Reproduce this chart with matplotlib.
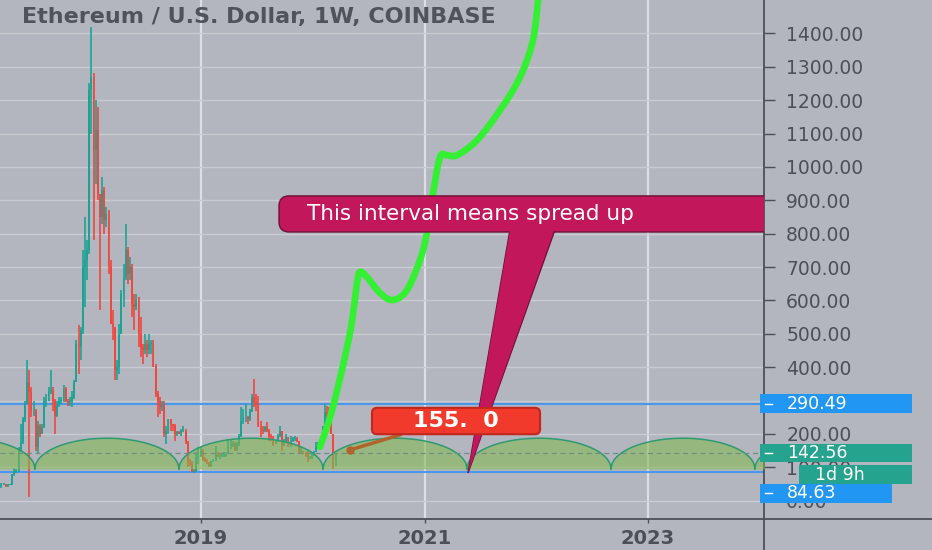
import numpy as np
import matplotlib.pyplot as plt
from matplotlib.patches import FancyBboxPatch, Polygon, Rectangle
from matplotlib.lines import Line2D
from matplotlib import transforms


# weekly ETH/USD candles (Coinbase), first week starts 2017-03-13
first_open = 40
closes = [43, 50, 50, 43, 48, 48, 80, 90, 90, 156,
          175, 245, 290, 355, 325, 270, 270, 160, 225, 200,
          220, 300, 300, 330, 330, 300, 255, 290, 300, 300,
          335, 300, 295, 300, 310, 355, 470, 460, 510, 700,
          720, 750, 1230, 1270, 1050, 1110, 920, 850, 930, 840,
          860, 700, 530, 520, 390, 400, 500, 620, 670, 750,
          680, 700, 590, 580, 600, 500, 460, 450, 470, 450,
          470, 470, 400, 320, 300, 280, 290, 200, 210, 245,
          230, 225, 200, 205, 200, 210, 210, 175, 115, 110,
          85, 85, 130, 135, 150, 125, 120, 115, 105, 120,
          120, 140, 135, 135, 135, 135, 140, 165, 165, 170,
          155, 170, 195, 240, 250, 250, 245, 270, 310, 295,
          290, 225, 215, 210, 220, 210, 195, 190, 170, 180,
          195, 210, 165, 175, 190, 165, 180, 185, 185, 180,
          150, 150, 145, 135, 130, 130, 145, 145, 165, 170,
          190, 225, 265, 250, 230, 200, 125, 135]
highs = [48, 53, 54, 51, 50, 50, 80, 97, 95, 160,
         230, 250, 300, 420, 390, 340, 300, 275, 240, 230,
         230, 310, 320, 340, 390, 340, 305, 300, 310, 310,
         345, 340, 305, 310, 330, 360, 480, 525, 520, 750,
         850, 780, 1250, 1420, 1280, 1200, 1180, 920, 970, 940,
         880, 870, 720, 570, 520, 420, 530, 630, 710, 830,
         760, 730, 710, 620, 620, 610, 550, 470, 500, 480,
         500, 480, 480, 410, 330, 310, 300, 300, 225, 245,
         245, 230, 230, 210, 210, 215, 225, 215, 180, 125,
         120, 95, 145, 160, 160, 155, 130, 125, 117, 120,
         125, 165, 145, 140, 140, 145, 145, 185, 185, 180,
         175, 175, 200, 280, 275, 290, 255, 275, 320, 365,
         320, 315, 240, 225, 225, 235, 215, 200, 195, 180,
         200, 225, 210, 185, 200, 190, 195, 190, 195, 190,
         180, 160, 150, 145, 150, 135, 145, 150, 175, 175,
         185, 225, 290, 285, 280, 255, 200, 140]
lows = [38, 38, 47, 42, 41, 46, 48, 74, 82, 85,
        145, 170, 235, 290, 10, 250, 255, 150, 140, 190,
        200, 218, 280, 300, 320, 270, 200, 250, 280, 290,
        295, 295, 285, 285, 280, 305, 355, 380, 420, 500,
        580, 660, 740, 1100, 780, 950, 900, 570, 830, 800,
        820, 680, 530, 480, 360, 360, 380, 500, 580, 660,
        650, 660, 550, 510, 570, 460, 430, 410, 440, 430,
        440, 440, 400, 310, 250, 260, 270, 190, 170, 200,
        210, 210, 180, 195, 200, 195, 205, 170, 100, 105,
        85, 82, 85, 110, 130, 120, 115, 110, 100, 100,
        115, 120, 130, 125, 130, 130, 130, 140, 155, 160,
        150, 150, 165, 190, 230, 235, 230, 240, 265, 280,
        270, 220, 190, 200, 205, 205, 180, 180, 165, 170,
        175, 190, 150, 165, 175, 160, 160, 175, 180, 175,
        140, 140, 140, 130, 115, 125, 125, 135, 145, 155,
        165, 185, 220, 240, 215, 220, 95, 105]

# hand drawn projection (decimal year, price)
proj_t = [2020.065, 2020.181, 2020.333, 2020.396, 2020.423, 2020.485, 2020.602,
          2020.718, 2020.843, 2020.960, 2021.022, 2021.076, 2021.139, 2021.201,
          2021.291, 2021.470, 2021.676, 2021.855, 2021.971, 2022.016]
proj_v = [161, 281, 502, 652, 685, 670, 622, 601, 631, 721, 802, 921, 1029,
          1035, 1035, 1080, 1170, 1269, 1380, 1500]

# cycle arcs: cusp dates, arc base and top
cusps = [2016.225, 2017.514, 2018.803, 2020.092, 2021.380, 2022.669, 2023.957, 2025.246]
arc_base = 95
arc_top = 187

level_hi = 290.49
level_lo = 84.63
level_last = 142.56

# annotations
note_line_t = [2020.333, 2020.781]
note_line_v = [152, 197]
price_note = "155.  0"
callout = "This interval means spread up"

BG = '#b3b6be'
DARK = '#4c4f57'
UP = '#1fa293'
DOWN = '#f0473f'
BLUE = '#4a98ee'
MAGENTA = '#c2185b'


def smooth(xs, ys, n=12):
    # catmull-rom through the drawn points, just for a hand drawn look
    p = np.column_stack([xs, ys]).astype(float)
    p = np.vstack([p[0], p, p[-1]])
    out = []
    for i in range(1, len(p) - 2):
        p0, p1, p2, p3 = p[i - 1], p[i], p[i + 1], p[i + 2]
        s = np.linspace(0, 1, n, endpoint=False)[:, None]
        out.append(0.5 * (2 * p1 + (-p0 + p2) * s + (2 * p0 - 5 * p1 + 4 * p2 - p3) * s ** 2
                          + (-p0 + 3 * p1 - 3 * p2 + p3) * s ** 3))
    out.append(p[-2][None, :])
    out = np.vstack(out)
    return out[:, 0], out[:, 1]


fig = plt.figure(figsize=(9.32, 5.5), dpi=100, facecolor=BG)
ax = fig.add_axes([0, 31 / 550, 764 / 932, 519 / 550])
ax.set_facecolor(BG)
ax.set_xlim(2017.2013, 2024.038)
ax.set_ylim(-55, 1500)

# grid; the 300 label sits fully under the 290.49 price tag
yt = np.arange(0, 1500, 100)
ax.set_yticks(yt)
ax.set_yticklabels(["" if v == 300 else f"{v:.2f}" for v in yt])
ax.set_xticks([2019, 2021, 2023])
ax.set_xticklabels(['2019', '2021', '2023'], fontweight='bold')
ax.yaxis.tick_right()
ax.yaxis.grid(True, color='#c8cbd2', lw=1.0)
ax.xaxis.grid(True, color='#dcdee3', lw=1.6)
ax.set_axisbelow(True)
for s in ['top', 'left']:
    ax.spines[s].set_visible(False)
for s in ['right', 'bottom']:
    ax.spines[s].set_color(DARK)
    ax.spines[s].set_linewidth(1.3)
ax.tick_params(axis='y', length=8, width=1, color=DARK, pad=8,
               labelsize=13.5, labelcolor=DARK)
ax.tick_params(axis='x', length=3, width=1, color=DARK, pad=4,
               labelsize=14, labelcolor=DARK)

# horizontal levels
ax.axhline(level_hi, color=BLUE, lw=1.5, zorder=2)
ax.axhline(level_lo, color=BLUE, lw=1.5, zorder=2)

# candles
week = 7 / 365.25
t = 2017.195 + np.arange(len(closes)) * week
opens = np.r_[first_open, closes[:-1]]
closes_a = np.array(closes)
col = np.where(closes_a >= opens, UP, DOWN)
ax.vlines(t, lows, highs, colors=col, lw=1.2, zorder=3)
ax.bar(t, np.maximum(np.abs(closes_a - opens), 2), bottom=np.minimum(opens, closes_a),
       width=week * 0.85, color=col, zorder=3)

# arcs
for a, b in zip(cusps[:-1], cusps[1:]):
    u = np.linspace(-1, 1, 200)
    xs = (a + b) / 2 + (b - a) / 2 * u
    ys = arc_base + (arc_top - arc_base) * np.sqrt(1 - u ** 2)
    ax.fill_between(xs, arc_base, ys, color='#7fba4a', alpha=0.55, lw=0, zorder=4)
    ax.plot(xs, ys, color='#2e9a70', lw=1.1, zorder=4)
ax.axhline(level_last, color='#6f8f80', lw=0.9, ls=(0, (4, 3)), zorder=4)

# projection line
sx, sy = smooth(proj_t, proj_v)
ax.plot(sx, sy, color='#33f033', lw=4.8, solid_capstyle='round',
        solid_joinstyle='round', zorder=5)

# price note
ax.plot(note_line_t, note_line_v, color='#b0642c', lw=2.5, zorder=6)
ax.plot(note_line_t[0], note_line_v[0], 'o', color='#b0642c', ms=5, zorder=6)

px_x = 1 / 111.75  # years per pixel
asp = 2.996 / px_x

# callout pointer and box
tip = (2021.389, level_lo - 2)
ax.add_patch(Polygon([(2021.765, 812), (2022.168, 812), tip], closed=True,
                     facecolor=MAGENTA, edgecolor='#6d1035', lw=1, zorder=7))
ax.add_patch(FancyBboxPatch((2019.698, 805), 4.6, 108,
                            boxstyle=f"round,pad=0,rounding_size={10 * px_x}",
                            mutation_aspect=asp, facecolor=MAGENTA,
                            edgecolor='#6d1035', lw=1, zorder=8))
ax.add_patch(Polygon([(2021.768, 816), (2022.165, 816), tip], closed=True,
                     facecolor=MAGENTA, edgecolor='none', zorder=9))
ax.text(2019.948, 859, callout, color='white', fontsize=15.5, va='center',
        ha='left', zorder=10)

# red price label
ax.add_patch(FancyBboxPatch((2020.530, 199), 1.504, 79,
                            boxstyle=f"round,pad=0,rounding_size={5 * px_x}",
                            mutation_aspect=asp, facecolor='#f23a2c',
                            edgecolor='#c0281e', lw=1.5, zorder=10))
ax.text(2021.282, 239, price_note, color='white', fontsize=16, fontweight='bold',
        ha='center', va='center', zorder=11)

# title
fig.text(22 / 932, 1 - 17 / 550, "Ethereum / U.S. Dollar, 1W, COINBASE",
         fontsize=16, fontweight='bold', color='#50535b', va='center', ha='left')

# extend axis lines to the figure edges
fig.add_artist(Line2D([764 / 932, 1], [31 / 550, 31 / 550], color=DARK, lw=1.3,
                      transform=fig.transFigure))
fig.add_artist(Line2D([764 / 932, 764 / 932], [0, 31 / 550], color=DARK, lw=1.3,
                      transform=fig.transFigure))

# price scale labels
bl = transforms.blended_transform_factory(fig.transFigure, ax.transData)
hpx = 2.996
scale_labels = [
    (f"{level_hi:.2f}", level_hi, '#2196f3', 760, 912),
    (f"{level_last:.2f}", level_last, '#26a38f', 760, 912),
    ("1d 9h", level_last - 21.5 * hpx, '#26a38f', 799, 912),
    (f"{level_lo:.2f}", level_lo - 21 * hpx, '#2196f3', 760, 892),
]
for txt, v, c, x0, x1 in scale_labels:
    h = 18.5 * hpx
    fig.add_artist(Rectangle((x0 / 932, v - h / 2), (x1 - x0) / 932, h,
                             transform=bl, facecolor=c, edgecolor='none'))
    if txt != "1d 9h":
        fig.add_artist(Line2D([765 / 932, 772 / 932], [v, v], color='white', lw=1,
                              transform=bl))
        fig.text(787 / 932, v, txt, transform=bl, color='white', fontsize=12.5,
                 va='center', ha='left')
    else:
        fig.text(815 / 932, v, txt, transform=bl, color='white', fontsize=12.5,
                 va='center', ha='left')

fig.savefig('out.png', dpi=100, facecolor=BG)
